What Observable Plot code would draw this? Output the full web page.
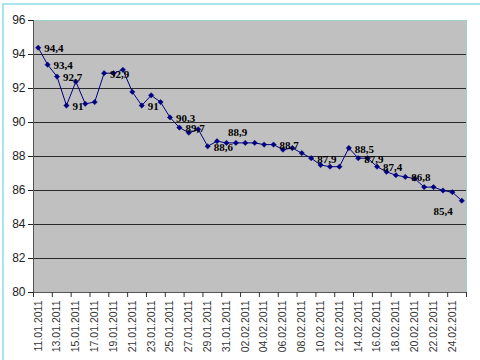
<!DOCTYPE html>
<html><head><meta charset="utf-8">
<script src="https://cdn.jsdelivr.net/npm/d3@7"></script>
<script src="https://cdn.jsdelivr.net/npm/@observablehq/plot@0.6"></script>
<style>
body{margin:0;background:#fff;}
#wrap{position:relative;width:480px;height:360px;overflow:hidden;}
#wrap svg{position:absolute;left:0;top:0;}
#border{position:absolute;left:2px;top:3px;right:-10px;bottom:-10px;border-left:2px solid #a8e6ec;border-top:2px solid #a8e6ec;pointer-events:none;}
</style></head><body><div id="wrap"><div id="border"></div></div>
<script>
const dates = ["11.01.2011","12.01.2011","13.01.2011","14.01.2011","15.01.2011","16.01.2011","17.01.2011","18.01.2011","19.01.2011","20.01.2011","21.01.2011","22.01.2011","23.01.2011","24.01.2011","25.01.2011","26.01.2011","27.01.2011","28.01.2011","29.01.2011","30.01.2011","31.01.2011","01.02.2011","02.02.2011","03.02.2011","04.02.2011","05.02.2011","06.02.2011","07.02.2011","08.02.2011","09.02.2011","10.02.2011","11.02.2011","12.02.2011","13.02.2011","14.02.2011","15.02.2011","16.02.2011","17.02.2011","18.02.2011","19.02.2011","20.02.2011","21.02.2011","22.02.2011","23.02.2011","24.02.2011","25.02.2011"];
const values = [94.4,93.4,92.7,91.0,92.4,91.1,91.2,92.9,92.9,93.1,91.8,91.0,91.6,91.2,90.3,89.7,89.4,89.6,88.6,88.9,88.8,88.8,88.8,88.8,88.7,88.7,88.4,88.5,88.2,87.9,87.5,87.4,87.4,88.5,87.9,87.9,87.4,87.1,86.9,86.8,86.7,86.2,86.2,86.0,85.9,85.4];
const labelIdx = [0,1,2,3,7,11,14,15,18,25,29,33,34,36,39];
const labelAboveIdx = [19];
const labelBelowIdx = [45];
const yTicks = [80,82,84,86,88,90,92,94,96];
const yGrid = [82,84,86,88,90,92,94];

const data = dates.map((d,i)=>({i, x:i+0.5, date:d, v:values[i]}));
const fmt = v => String(v).replace(".", ",");
const pick = idx => idx.map(i => ({...data[i], label: fmt(data[i].v)}));
const boundaryTicks = d3.range(0, dates.length + 1, 2);
const labelTicks = d3.range(0, dates.length, 2).map(i => i + 0.5);

const chart = Plot.plot({
  width: 480, height: 360,
  marginLeft: 33, marginRight: 14, marginTop: 20, marginBottom: 68,
  style: {fontFamily: "'Liberation Sans', Arial, sans-serif", background: "transparent"},
  x: {domain: [0, dates.length]},
  y: {domain: [80, 96]},
  marks: [
    Plot.frame({fill: "#c0c0c0", stroke: "#9ccfd2"}),
    Plot.ruleY(yGrid, {stroke: "#2a2a2a", strokeWidth: 1}),
    Plot.ruleX([0], {stroke: "#555"}),
    Plot.ruleY([80], {stroke: "#555"}),
    Plot.axisY({ticks: yTicks, tickSize: 5, tickPadding: 3, fontSize: 12, color: "#222", label: null}),
    Plot.axisX({ticks: boundaryTicks, tickSize: 5, tickFormat: () => "", label: null, color: "#333"}),
    Plot.axisX({ticks: labelTicks, tickSize: 0, tickRotate: -90, tickPadding: 8, fontSize: 10.5, color: "#333",
      tickFormat: x => dates[Math.floor(x)], label: null}),
    Plot.line(data, {x: "x", y: "v", stroke: "#000080", strokeWidth: 1}),
    Plot.dot(data, {x: "x", y: "v", symbol: "diamond2", r: 2.4, fill: "#000080", stroke: "#000080", strokeWidth: 0.5}),
    Plot.text(pick(labelIdx), {x: "x", y: "v", text: "label", textAnchor: "start", dx: 6, dy: 1,
      fontFamily: "'Liberation Serif', 'Times New Roman', serif", fontWeight: "bold", fontSize: 11, fill: "#000"}),
    Plot.text(pick(labelAboveIdx), {x: "x", y: "v", text: "label", textAnchor: "start", dx: 11, dy: -9,
      fontFamily: "'Liberation Serif', 'Times New Roman', serif", fontWeight: "bold", fontSize: 11, fill: "#000"}),
    Plot.text(pick(labelBelowIdx), {x: "x", y: "v", text: "label", textAnchor: "end", dx: -9, dy: 11,
      fontFamily: "'Liberation Serif', 'Times New Roman', serif", fontWeight: "bold", fontSize: 11, fill: "#000"})
  ]
});
document.getElementById("wrap").appendChild(chart);
</script>
</body></html>
